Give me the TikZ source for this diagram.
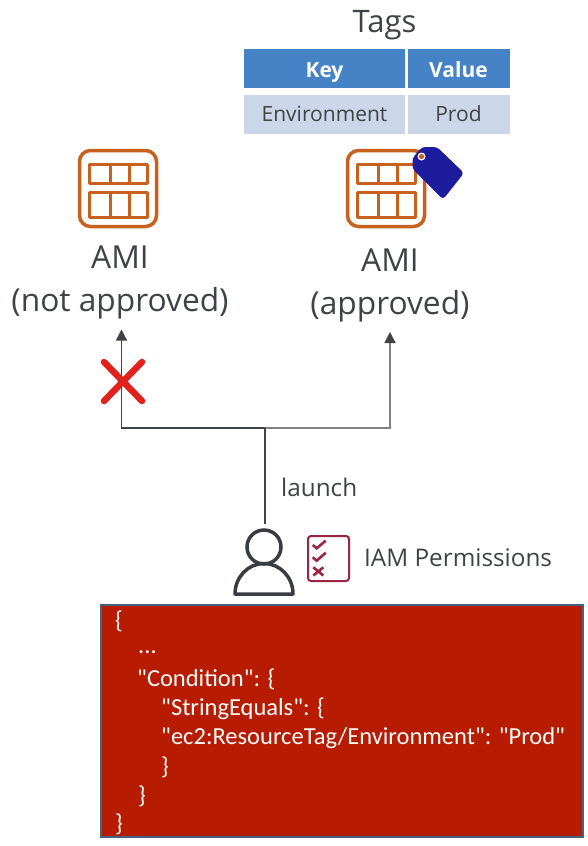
\documentclass[tikz,border=0pt]{standalone}
\usepackage{fontspec}
\setmainfont{Open Sans}
\newfontfamily\jsonfont{Carlito}
\usetikzlibrary{positioning,
                calc,
                arrows.meta}
\definecolor{amiorange}{HTML}{C8601E}
\definecolor{tagblue}{HTML}{1C1C9C}
\definecolor{headblue}{HTML}{4682C6}
\definecolor{rowblue}{HTML}{CBD6E8}
\definecolor{inkgrey}{HTML}{3F4347}
\definecolor{crossred}{HTML}{E3211B}
\definecolor{checkred}{HTML}{9C2442}
\definecolor{jsonred}{HTML}{B71C00}
\definecolor{jsonedge}{HTML}{47607E}

\begin{document}
\begin{tikzpicture}[x=1pt,y=-1pt]

\tikzset{
tablehead/.style={
fill=headblue,
text=white,
minimum height=39pt,
inner sep=0pt,
text height=18pt,
text depth=0pt,
font=\fontsize{21}{25}\selectfont\bfseries
},
tablerow/.style={
fill=rowblue,
text=inkgrey,
minimum height=39pt,
inner sep=0pt,
text height=15pt,
text depth=1pt,
font=\fontsize{21}{25}\selectfont
},
amilabel/.style={
align=center,
text=inkgrey,
font=\fontsize{31.7}{43}\selectfont
},
smalllabel/.style={
text=inkgrey,
font=\fontsize{24.3}{28}\selectfont
},
jsonline/.style={
anchor=west,
inner sep=0pt,
text=white,
font=\jsonfont\fontsize{24.5}{28}\selectfont
},
branchline/.style={
line width=1.2pt,
-{Triangle[width=11pt,length=11pt,color=inkgrey]}
},
amiicon/.pic={
\draw[amiorange,line width=3.5pt,rounded corners=11pt] (0,0) rectangle (77,76);
\draw[amiorange,line width=3.5pt,line join=round] (10,14) rectangle (68,33);
\draw[amiorange,line width=3.5pt,line join=round] (10,42) rectangle (68,67);
\draw[amiorange,line width=3.5pt] (31,14) -- (31,33) (50,14) -- (50,33);
\draw[amiorange,line width=3.5pt] (31,42) -- (31,67) (50,42) -- (50,67);
}
}

\useasboundingbox (0,0) rectangle (588,846);

%--------------------------------------------------
% TAGS
%--------------------------------------------------

\node[text=inkgrey,font=\fontsize{31}{36}\selectfont] (tagstitle) at (384.5,25) {Tags};

\node[tablehead,minimum width=161pt] (keyhead) at (324.5,68.5) {Key};
\node[tablehead,minimum width=102pt] (valuehead) at (458.5,68.5) {Value};
\node[tablerow,minimum width=161pt] (keycell) at (324.5,114) {Environment};
\node[tablerow,minimum width=102pt] (valuecell) at (458.5,114) {Prod};

%--------------------------------------------------
% AMIS
%--------------------------------------------------

\pic at (79.5,150.5) {amiicon};
\pic at (347.5,150.5) {amiicon};

\fill[tagblue,rounded corners=3.5pt] (412.5,158) -- (422,147) -- (437,147) -- (464,173)
-- (443,199.5) -- (412.5,169) -- cycle;
\fill[white] (421.5,156.5) circle (4pt);
\fill[amiorange] (421.5,156.5) circle (2.6pt);

\node[amilabel] (amileft) at (120,282.5) {AMI\\(not approved)};
\node[amilabel] (amiright) at (390,285) {AMI\\(approved)};

%--------------------------------------------------
% LAUNCH
%--------------------------------------------------

\coordinate (usertop) at (265,524);
\coordinate (branch) at (265,428);
\coordinate (lefttip) at (121.5,329.5);
\coordinate (righttip) at (390,332);

\draw[branchline,draw=gray,line width=1.6pt] (branch) -| (righttip);
\draw[branchline,draw=inkgrey] (branch) -| (lefttip);
\draw[inkgrey,line width=1.2pt] (usertop) -- (branch);

\draw[crossred,line width=6.5pt,line cap=round] (104,362) -- (142,401) (142,362) -- (104,401);

\node[smalllabel,anchor=west,inner sep=0pt] (launchlabel) at (281,487) {launch};

%--------------------------------------------------
% USER
%--------------------------------------------------

\draw[inkgrey!90!black,line width=3.5pt] (264,547) circle (17pt);
\draw[inkgrey!90!black,line width=3.5pt,line join=round]
(235,594) arc[start angle=180,end angle=0,x radius=29pt,y radius=30.5pt] -- cycle;

\draw[checkred,line width=2pt,rounded corners=3pt] (308,536) rectangle (349,581);
\draw[checkred,line width=2.6pt]
(312.7,545) -- (316.7,548.3) -- (325.7,540.7)
(312.7,557.3) -- (316.7,560.7) -- (325.7,552.7)
(313.3,567.3) -- (323.3,575.5)
(323.3,567.3) -- (313.3,575.5);

\node[smalllabel,anchor=west,inner sep=0pt] (iamlabel) at (364,558) {IAM Permissions};

%--------------------------------------------------
% POLICY
%--------------------------------------------------

\draw[draw=jsonedge,fill=jsonred,line width=2.5pt] (101,605) rectangle (583,837);

\node[jsonline] (jsonopen) at (115,621) {\{};
\node[jsonline] (jsondots) at (138,652) {...};
\node[jsonline] (jsoncond) at (137,679) {"Condition": \{};
\node[jsonline] (jsonequals) at (161,709) {"StringEquals": \{};
\node[jsonline] (jsontag) at (161,738) {"ec2:ResourceTag/Environment": "Prod"};
\node[jsonline] (jsonequalsend) at (161,767) {\}};
\node[jsonline] (jsoncondend) at (138,796) {\}};
\node[jsonline] (jsonclose) at (115,824) {\}};

\end{tikzpicture}
\end{document}
